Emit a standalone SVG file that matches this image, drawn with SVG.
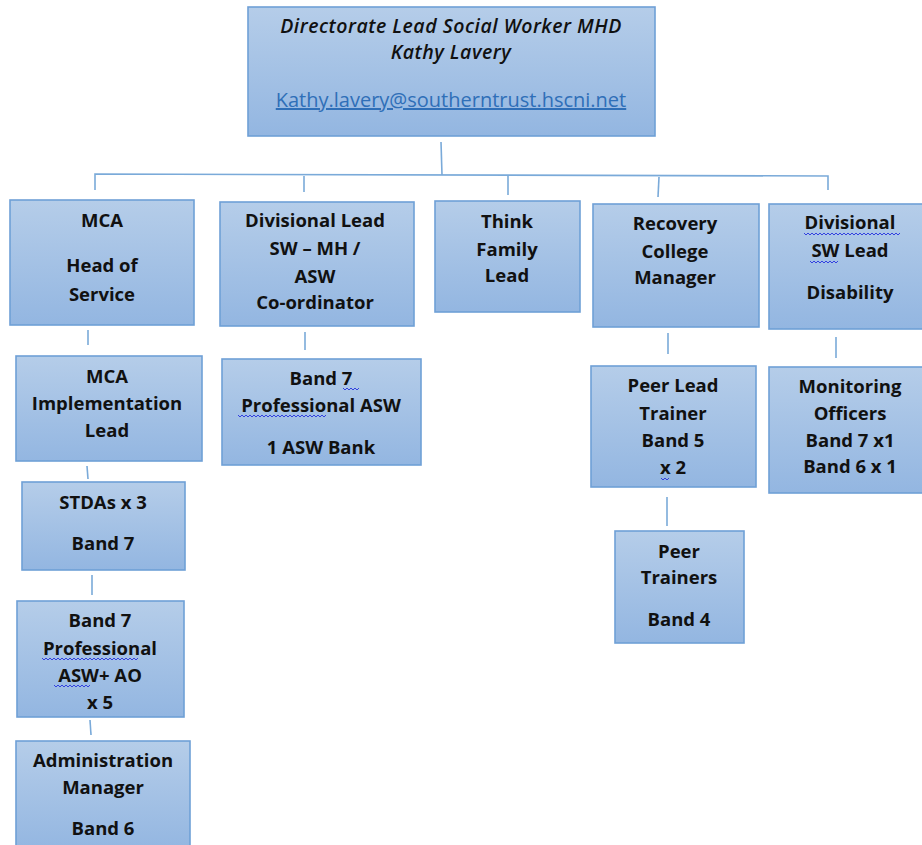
<svg xmlns="http://www.w3.org/2000/svg" width="922" height="845" viewBox="0 0 922 845">
<defs>
<linearGradient id="g" x1="0" y1="0" x2="0" y2="1">
<stop offset="0" stop-color="#b5cde9"/>
<stop offset="1" stop-color="#93b6e1"/>
</linearGradient>
</defs>
<style>
.box{fill:url(#g);stroke:#6fa0d6;stroke-width:1.6}
.t{font-family:"Open Sans","Liberation Sans",sans-serif;font-weight:700;font-size:18.5px;fill:#111;text-anchor:middle}
.ti{font-family:"Open Sans","Liberation Sans",sans-serif;font-style:italic;font-weight:600;font-size:19.5px;letter-spacing:0.5px;fill:#111;text-anchor:middle}
.link{font-family:"Open Sans","Liberation Sans",sans-serif;font-size:20px;fill:#2f6fb8;text-anchor:middle;text-decoration:underline}
.c{stroke:#7aaad9;stroke-width:1.6;fill:none}
.sq{stroke:#3340e0;stroke-width:1;fill:none}
</style>
<rect width="922" height="845" fill="#fff"/>
<g id="connectors">
<path class="c" d="M441 142 L442 175"/>
<path class="c" d="M95 190 L95 174 L828 176 L828 190"/>
<path class="c" d="M304 176 L304 192"/>
<path class="c" d="M508 176 L508 195"/>
<path class="c" d="M659 177 L658 197"/>
<path class="c" d="M88 330 L88 345"/>
<path class="c" d="M87 466 L88 479"/>
<path class="c" d="M92 575 L92 595"/>
<path class="c" d="M90 720 L91 735"/>
<path class="c" d="M305 332 L305 350"/>
<path class="c" d="M668 333 L668 354"/>
<path class="c" d="M678 370 L678 385"/>
<path class="c" d="M667 497 L667 526"/>
<path class="c" d="M836 337 L836 358"/>
</g>
<g id="n-director">
<rect class="box" x="248" y="7" width="407" height="129"/>
<text class="ti" x="451" y="33">Directorate Lead Social Worker MHD</text>
<text class="ti" x="451" y="59">Kathy Lavery</text>
<text class="link" x="451" y="107">Kathy.lavery@southerntrust.hscni.net</text>
</g>
<g id="n-mca">
<rect class="box" x="10" y="200" width="184" height="125"/>
<text class="t" x="102" y="227">MCA</text>
<text class="t" x="102" y="272">Head of</text>
<text class="t" x="102" y="301">Service</text>
</g>
<g id="n-divlead">
<rect class="box" x="220" y="202" width="194" height="124"/>
<text class="t" x="315" y="227">Divisional Lead</text>
<text class="t" x="315" y="255">SW – MH /</text>
<text class="t" x="315" y="283">ASW</text>
<text class="t" x="315" y="309">Co-ordinator</text>
</g>
<g id="n-think">
<rect class="box" x="435" y="201" width="145" height="111"/>
<text class="t" x="507" y="228">Think</text>
<text class="t" x="507" y="256">Family</text>
<text class="t" x="507" y="282">Lead</text>
</g>
<g id="n-recovery">
<rect class="box" x="593" y="204" width="166" height="123"/>
<text class="t" x="675" y="230">Recovery</text>
<text class="t" x="675" y="258">College</text>
<text class="t" x="675" y="284">Manager</text>
</g>
<g id="n-disability">
<rect class="box" x="769" y="204" width="160" height="125"/>
<text class="t" x="850" y="229">Divisional</text>
<text class="t" x="850" y="257">SW Lead</text>
<text class="t" x="850" y="299">Disability</text>
<path class="sq" d="M804 233 l2 2 l2 -2 l2 2 l2 -2 l2 2 l2 -2 l2 2 l2 -2 l2 2 l2 -2 l2 2 l2 -2 l2 2 l2 -2 l2 2 l2 -2 l2 2 l2 -2 l2 2 l2 -2 l2 2 l2 -2 l2 2 l2 -2 l2 2 l2 -2 l2 2 l2 -2 l2 2 l2 -2 l2 2 l2 -2 l2 2 l2 -2 l2 2 l2 -2 l2 2 l2 -2 l2 2 l2 -2 l2 2 l2 -2 l2 2 l2 -2 l2 2 l2 -2 l2 2 l2 -2"/>
<path class="sq" d="M810 261 l2 2 l2 -2 l2 2 l2 -2 l2 2 l2 -2 l2 2 l2 -2 l2 2 l2 -2 l2 2 l2 -2 l2 2 l2 -2"/>
</g>
<g id="n-mcaimpl">
<rect class="box" x="16" y="356" width="186" height="105"/>
<text class="t" x="107" y="383">MCA</text>
<text class="t" x="107" y="410">Implementation</text>
<text class="t" x="107" y="437">Lead</text>
</g>
<g id="n-band7asw">
<rect class="box" x="222" y="359" width="199" height="106"/>
<text class="t" x="321" y="385">Band 7</text>
<text class="t" x="321" y="412">Professional ASW</text>
<text class="t" x="321" y="454">1 ASW Bank</text>
<path class="sq" d="M343 388 l2 2 l2 -2 l2 2 l2 -2 l2 2 l2 -2 l2 2 l2 -2"/>
<path class="sq" d="M238 415 l2 2 l2 -2 l2 2 l2 -2 l2 2 l2 -2 l2 2 l2 -2 l2 2 l2 -2 l2 2 l2 -2 l2 2 l2 -2 l2 2 l2 -2 l2 2 l2 -2 l2 2 l2 -2 l2 2 l2 -2 l2 2 l2 -2 l2 2 l2 -2 l2 2 l2 -2 l2 2 l2 -2 l2 2 l2 -2 l2 2 l2 -2 l2 2 l2 -2 l2 2 l2 -2 l2 2 l2 -2 l2 2 l2 -2 l2 2 l2 -2"/>
</g>
<g id="n-stdas">
<rect class="box" x="22" y="482" width="163" height="88"/>
<text class="t" x="103" y="509">STDAs x 3</text>
<text class="t" x="103" y="550">Band 7</text>
</g>
<g id="n-band7ao">
<rect class="box" x="17" y="601" width="167" height="116"/>
<text class="t" x="100" y="627">Band 7</text>
<text class="t" x="100" y="655">Professional</text>
<text class="t" x="100" y="682">ASW+ AO</text>
<text class="t" x="100" y="709">x 5</text>
<path class="sq" d="M42 658 l2 2 l2 -2 l2 2 l2 -2 l2 2 l2 -2 l2 2 l2 -2 l2 2 l2 -2 l2 2 l2 -2 l2 2 l2 -2 l2 2 l2 -2 l2 2 l2 -2 l2 2 l2 -2 l2 2 l2 -2 l2 2 l2 -2 l2 2 l2 -2 l2 2 l2 -2 l2 2 l2 -2 l2 2 l2 -2 l2 2 l2 -2 l2 2 l2 -2 l2 2 l2 -2 l2 2 l2 -2 l2 2 l2 -2 l2 2 l2 -2 l2 2 l2 -2 l2 2 l2 -2"/>
<path class="sq" d="M54 685 l2 2 l2 -2 l2 2 l2 -2 l2 2 l2 -2 l2 2 l2 -2 l2 2 l2 -2 l2 2 l2 -2 l2 2 l2 -2 l2 2 l2 -2 l2 2 l2 -2"/>
</g>
<g id="n-admin">
<rect class="box" x="16" y="741" width="174" height="110"/>
<text class="t" x="103" y="767">Administration</text>
<text class="t" x="103" y="794">Manager</text>
<text class="t" x="103" y="835">Band 6</text>
</g>
<g id="n-peerlead">
<rect class="box" x="591" y="366" width="165" height="121"/>
<text class="t" x="673" y="392">Peer Lead</text>
<text class="t" x="673" y="420">Trainer</text>
<text class="t" x="673" y="447">Band 5</text>
<text class="t" x="673" y="474">x 2</text>
<path class="sq" d="M661 478 l2 2 l2 -2 l2 2 l2 -2"/>
</g>
<g id="n-peertrainers">
<rect class="box" x="615" y="531" width="129" height="112"/>
<text class="t" x="679" y="558">Peer</text>
<text class="t" x="679" y="584">Trainers</text>
<text class="t" x="679" y="626">Band 4</text>
</g>
<g id="n-monitoring">
<rect class="box" x="769" y="367" width="160" height="126"/>
<text class="t" x="850" y="393">Monitoring</text>
<text class="t" x="850" y="420">Officers</text>
<text class="t" x="850" y="447">Band 7 x1</text>
<text class="t" x="850" y="473">Band 6 x 1</text>
</g>
</svg>
